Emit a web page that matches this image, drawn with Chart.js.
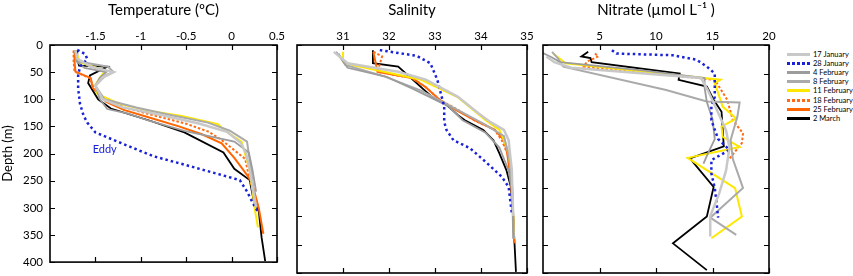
<!DOCTYPE html>
<html>
<head>
<meta charset="utf-8">
<script src="https://cdn.jsdelivr.net/npm/chart.js@4"></script>
<style>
  body { margin: 0; width: 853px; height: 276px; background: #fff; position: relative; overflow: hidden; font-family: Lato, "Open Sans", sans-serif; }
  canvas { position: absolute; top: 0; }
  #legend { position: absolute; left: 787px; top: 50px; font-size: 7.5px; color: #000; }
  .row { height: 9.1px; display: flex; align-items: center; white-space: nowrap; }
  .swatch { width: 23px; height: 3px; margin-right: 3px; }
</style>
</head>
<body>
<canvas id="tempChart" width="290" height="276" style="left:0px"></canvas>
<canvas id="salChart" width="250" height="276" style="left:290px"></canvas>
<canvas id="nitChart" width="240" height="276" style="left:540px"></canvas>
<div id="legend"></div>
<script>
// Series (sampling dates)
const seriesLabels = ['17 January', '28 January', '4 February', '8 February', '11 February', '18 February', '25 February', '2 March'];
const seriesColors = ['#c8c8c8', '#1a22d8', '#9c9c9c', '#aaaaaa', '#ffe800', '#ff6a14', '#ff6600', '#000000'];
const seriesWidths = [2.5, 2.5, 1.8, 2, 2, 2, 2, 1.8];
const seriesDash = [[], [2.5, 3], [], [], [], [2.5, 2], [], []];

// Axis ticks
const depthTicks = [0, 50, 100, 150, 200, 250, 300, 350, 400];
const tempTicks = [-1.5, -1, -0.5, 0, 0.5];
const salTicks = [31, 32, 33, 34, 35];
const nitTicks = [5, 10, 15, 20];

// Temperature (deg C) profiles: depth (m) and value
const tDepth17Jan = [10, 25, 40, 50, 60, 75, 100, 115, 130, 145, 160, 180, 200, 230, 260, 300];
const temp17Jan   = [-1.72, -1.70, -1.55, -1.30, -1.42, -1.50, -1.42, -1.20, -0.75, -0.35, -0.05, 0.10, 0.16, 0.20, 0.23, 0.27];
const tDepth28Jan = [9, 17, 26, 40, 56, 80, 108, 130, 143, 161, 184, 205, 225, 249, 270, 290, 310];
const temp28Jan   = [-1.70, -1.61, -1.59, -1.67, -1.69, -1.69, -1.67, -1.63, -1.59, -1.50, -1.17, -0.86, -0.42, 0.09, 0.17, 0.23, 0.30];
const tDepth4Feb  = [10, 30, 42, 50, 60, 75, 100, 118, 126, 140, 158, 178, 198, 230, 270];
const temp4Feb    = [-1.72, -1.71, -1.62, -1.38, -1.45, -1.50, -1.45, -1.37, -1.15, -0.90, -0.52, 0.03, 0.19, 0.23, 0.27];
const tDepth8Feb  = [10, 30, 40, 50, 55, 75, 100, 115, 128, 143, 158, 178, 237, 295];
const temp8Feb    = [-1.72, -1.70, -1.36, -1.30, -1.38, -1.50, -1.40, -1.05, -0.70, -0.26, -0.02, 0.17, 0.22, 0.26];
const tDepth11Feb = [10, 32, 47, 60, 73, 90, 108, 120, 131, 146, 158, 178, 231, 307, 336];
const temp11Feb   = [-1.72, -1.67, -1.39, -1.45, -1.50, -1.48, -1.24, -0.95, -0.55, -0.15, -0.07, 0.11, 0.20, 0.26, 0.29];
const tDepth18Feb = [10, 30, 49, 61, 79, 100, 115, 130, 145, 160, 175, 210, 249, 301];
const temp18Feb   = [-1.74, -1.74, -1.73, -1.56, -1.52, -1.40, -1.18, -0.85, -0.50, -0.25, -0.11, 0.15, 0.20, 0.30];
const tDepth25Feb = [10, 30, 49, 61, 79, 105, 120, 135, 150, 165, 181, 208, 251, 301, 348];
const temp25Feb   = [-1.73, -1.73, -1.72, -1.55, -1.53, -1.38, -1.18, -0.88, -0.58, -0.32, -0.11, 0.03, 0.22, 0.30, 0.35];
const tDepth2Mar  = [10, 25, 38, 40, 56, 70, 100, 117, 140, 161, 198, 228, 249, 284, 307, 354, 398];
const temp2Mar    = [-1.70, -1.70, -1.68, -1.37, -1.56, -1.58, -1.47, -1.33, -0.89, -0.52, -0.09, 0.03, 0.20, 0.24, 0.30, 0.33, 0.37];

// Salinity profiles
const sDepth17Jan = [12, 32, 47, 61, 91, 120, 135, 149, 167, 190, 219, 249, 300];
const sal17Jan    = [30.8, 31.1, 32.2, 32.8, 33.5, 33.95, 34.2, 34.5, 34.6, 34.63, 34.67, 34.68, 34.7];
const sDepth28Jan = [9, 19, 32, 61, 108, 135, 149, 167, 181, 205, 231, 249, 295];
const sal28Jan    = [31.8, 32.6, 32.9, 33.05, 33.2, 33.2, 33.25, 33.4, 33.76, 34.1, 34.45, 34.6, 34.67];
const sDepth4Feb  = [12, 40, 56, 76, 108, 132, 154, 180, 220, 260, 340];
const sal4Feb     = [30.85, 31.1, 31.95, 32.5, 33.3, 33.6, 34.1, 34.4, 34.6, 34.68, 34.7];
const sDepth8Feb  = [15, 35, 55, 80, 110, 140, 160, 200, 250, 300, 340];
const sal8Feb     = [30.9, 31.05, 31.9, 32.7, 33.4, 34.1, 34.5, 34.62, 34.68, 34.7, 34.72];
const sDepth11Feb = [12, 29, 35, 61, 92, 132, 149, 167, 190, 220, 260, 300, 340];
const sal11Feb    = [31.0, 31.0, 31.2, 32.7, 33.5, 34.1, 34.4, 34.5, 34.6, 34.65, 34.68, 34.7, 34.72];
const sDepth18Feb = [12, 20, 47, 58, 74, 96, 114, 132, 149, 167, 190, 220, 260, 300, 345];
const sal18Feb    = [31.66, 31.85, 31.75, 32.5, 32.8, 33.1, 33.5, 33.85, 34.3, 34.45, 34.57, 34.64, 34.68, 34.7, 34.72];
const sDepth25Feb = [12, 47, 58, 74, 96, 114, 132, 149, 167, 190, 220, 260, 300, 348];
const sal25Feb    = [31.66, 31.75, 32.5, 32.8, 33.1, 33.45, 33.87, 34.3, 34.5, 34.57, 34.62, 34.67, 34.7, 34.72];
const sDepth2Mar  = [9, 32, 38, 67, 93, 105, 123, 132, 149, 167, 190, 219, 249, 300, 350, 398];
const sal2Mar     = [31.65, 31.65, 32.2, 32.6, 32.96, 33.25, 33.5, 33.65, 34.05, 34.27, 34.4, 34.55, 34.65, 34.7, 34.73, 34.76];

// Nitrate (umol/L) profiles
const nDepth17Jan = [20, 30, 40, 58, 80, 110, 150, 180, 220, 260, 300, 336];
const nit17Jan    = [0.3, 1.0, 2.5, 14.0, 14.6, 15.3, 16.2, 16.5, 16.2, 15.6, 14.8, 14.8];
const nDepth28Jan = [9, 15, 18, 26, 38, 50, 91, 108, 132, 165, 184, 202, 225, 251, 284, 303];
const nit28Jan    = [6.1, 6.5, 11.5, 13.6, 14.5, 15.2, 15.2, 14.9, 14.9, 15.5, 16.5, 14.9, 14.9, 15.2, 15.4, 15.5];
const nDepth4Feb  = [14, 22, 30, 45, 58, 75, 100, 130, 165, 190, 208];
const nit4Feb     = [0.0, 0.8, 1.5, 9.0, 14.3, 14.3, 14.5, 15.0, 15.2, 14.6, 14.2];
const nDepth8Feb  = [12, 23, 38, 79, 99, 101, 126, 167, 200, 251, 303, 333];
const nit8Feb     = [0.8, 1.3, 1.8, 10.9, 14.5, 17.4, 17.2, 16.6, 16.8, 17.7, 14.8, 17.1];
const nDepth11Feb = [15, 32, 61, 67, 108, 129, 143, 161, 179, 198, 251, 301, 339];
const nit11Feb    = [0.9, 2.0, 15.7, 15.2, 15.9, 17.1, 15.8, 15.9, 17.4, 12.8, 17.0, 17.6, 14.9];
const nDepth18Feb = [15, 20, 29, 38, 61, 96, 132, 155, 172, 202];
const nit18Feb    = [4.6, 4.9, 3.9, 3.6, 15.2, 16.3, 16.8, 17.7, 17.6, 16.4];
const nDepth25Feb = [];
const nit25Feb    = [];
const nDepth2Mar  = [12, 20, 23, 30, 50, 61, 73, 96, 117, 178, 199, 249, 301, 348, 395];
const nit2Mar     = [4.0, 3.4, 4.2, 4.3, 12.1, 12.0, 14.5, 15.1, 15.8, 16.0, 13.0, 15.1, 14.5, 11.5, 14.5];

const tempSeries = [[tDepth17Jan, temp17Jan], [tDepth28Jan, temp28Jan], [tDepth4Feb, temp4Feb], [tDepth8Feb, temp8Feb],
  [tDepth11Feb, temp11Feb], [tDepth18Feb, temp18Feb], [tDepth25Feb, temp25Feb], [tDepth2Mar, temp2Mar]];
const salSeries = [[sDepth17Jan, sal17Jan], [sDepth28Jan, sal28Jan], [sDepth4Feb, sal4Feb], [sDepth8Feb, sal8Feb],
  [sDepth11Feb, sal11Feb], [sDepth18Feb, sal18Feb], [sDepth25Feb, sal25Feb], [sDepth2Mar, sal2Mar]];
const nitSeries = [[nDepth17Jan, nit17Jan], [nDepth28Jan, nit28Jan], [nDepth4Feb, nit4Feb], [nDepth8Feb, nit8Feb],
  [nDepth11Feb, nit11Feb], [nDepth18Feb, nit18Feb], [nDepth25Feb, nit25Feb], [nDepth2Mar, nit2Mar]];

const FONT = 'Lato, "Open Sans", sans-serif';

// frame around the plot area plus inward tick marks on all four sides
const frameTicks = {
  id: 'frameTicks',
  afterDraw(chart, args, opts) {
    const ctx = chart.ctx;
    const a = chart.chartArea;
    const x = chart.scales.x, y = chart.scales.y;
    ctx.save();
    ctx.strokeStyle = '#000';
    ctx.lineWidth = 1.2;
    ctx.beginPath();
    opts.xTicks.forEach(v => {
      const px = Math.round(x.getPixelForValue(v)) + 0.5;
      ctx.moveTo(px, a.top); ctx.lineTo(px, a.top + 5);
      ctx.moveTo(px, a.bottom); ctx.lineTo(px, a.bottom - 5);
    });
    opts.yTicks.forEach(v => {
      const py = Math.round(y.getPixelForValue(v)) + 0.5;
      ctx.moveTo(a.left, py); ctx.lineTo(a.left + 5, py);
      ctx.moveTo(a.right, py); ctx.lineTo(a.right - 5, py);
    });
    ctx.stroke();
    ctx.lineWidth = 1.6;
    ctx.strokeRect(a.left, a.top, a.right - a.left, a.bottom - a.top);
    if (opts.note) {
      ctx.fillStyle = opts.note.color;
      ctx.font = '11px ' + FONT;
      ctx.textBaseline = 'middle';
      ctx.fillText(opts.note.text, x.getPixelForValue(opts.note.x), y.getPixelForValue(opts.note.y));
    }
    ctx.restore();
  }
};

function makePanel(id, series, xMin, xMax, xStep, xTicks, title, showY, padding, note) {
  return new Chart(document.getElementById(id), {
    type: 'scatter',
    data: {
      datasets: series.map((s, i) => ({
        label: seriesLabels[i],
        data: s[0].map((d, k) => ({ x: s[1][k], y: d })),
        showLine: true,
        borderColor: seriesColors[i],
        borderWidth: seriesWidths[i],
        borderDash: seriesDash[i],
        pointRadius: 0,
        fill: false,
        tension: 0
      }))
    },
    options: {
      responsive: false,
      animation: false,
      layout: { padding: padding },
      plugins: {
        legend: { display: false },
        tooltip: { enabled: false },
        frameTicks: { xTicks: xTicks, yTicks: depthTicks, note: note }
      },
      scales: {
        x: {
          type: 'linear', position: 'top', min: xMin, max: xMax,
          ticks: {
            stepSize: xStep, autoSkip: false, maxRotation: 0, padding: 2, color: '#000',
            font: { family: FONT, size: 11.5 },
            callback: v => xTicks.includes(v) ? String(v) : ''
          },
          grid: { display: false, drawTicks: false },
          border: { display: false },
          title: { display: true, text: title, color: '#000', font: { family: FONT, size: 15 }, padding: { top: 1, bottom: 0 } },
          afterFit: s => { s.height = 45; }
        },
        y: {
          type: 'linear', reverse: true, min: 0, max: 400,
          ticks: {
            stepSize: 50, display: showY, padding: 7, color: '#000',
            font: { family: FONT, size: 11.5 }
          },
          grid: { display: false, drawTicks: false },
          border: { display: false },
          title: { display: showY, text: 'Depth (m)', color: '#000', font: { family: FONT, size: 13 }, padding: { top: 0, bottom: 0 } },
          afterFit: s => { s.width = showY ? 50 : 0; }
        }
      }
    },
    plugins: [frameTicks]
  });
}

makePanel('tempChart', tempSeries, -2, 0.5, 0.5, tempTicks, 'Temperature (ºC)', true,
  { left: 0, right: 13, top: 0, bottom: 3 }, { text: 'Eddy', x: -1.53, y: 193, color: '#1a22d8' });
makePanel('salChart', salSeries, 30, 35, 1, salTicks, 'Salinity', false,
  { left: 7, right: 13, top: 0, bottom: 3 });
makePanel('nitChart', nitSeries, 0, 20, 5, nitTicks, 'Nitrate (µmol L⁻¹ )', false,
  { left: 3, right: 11, top: 0, bottom: 3 });

// legend
const legend = document.getElementById('legend');
seriesLabels.forEach((name, i) => {
  const row = document.createElement('div');
  row.className = 'row';
  const sw = document.createElement('div');
  sw.className = 'swatch';
  const c = seriesColors[i];
  if (seriesDash[i].length) {
    sw.style.background = 'repeating-linear-gradient(to right, ' + c + ' 0 3px, transparent 3px 5px)';
  } else {
    sw.style.background = c;
  }
  const txt = document.createElement('span');
  txt.textContent = name;
  row.appendChild(sw);
  row.appendChild(txt);
  legend.appendChild(row);
});
</script>
</body>
</html>
